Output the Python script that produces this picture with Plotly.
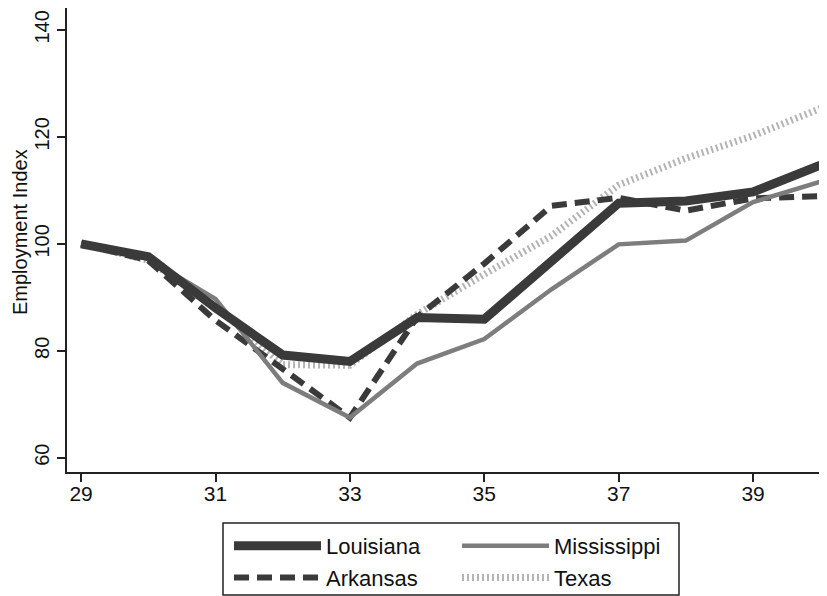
import plotly.graph_objects as go

years = [29, 30, 31, 32, 33, 34, 35, 36, 37, 38, 39, 40]
louisiana = [100, 97.6, 88.0, 79.2, 78.0, 86.2, 85.9, 96.8, 107.6, 108.0, 109.7, 114.7]
arkansas = [100, 96.9, 85.7, 76.6, 67.5, 86.3, 96.3, 107.1, 108.6, 106.2, 108.5, 108.9]
mississippi = [100, 97.2, 89.7, 74.0, 67.5, 77.6, 82.2, 91.5, 99.9, 100.6, 107.8, 111.6]
texas = [100, 96.9, 88.4, 77.4, 77.3, 86.8, 94.3, 101.5, 111.0, 116.0, 120.2, 125.3]

x_ticks = [29, 31, 33, 35, 37, 39]
y_ticks = [60, 80, 100, 120, 140]

FONT = "Liberation Sans, Arial, sans-serif"

fig = go.Figure()
fig.add_trace(go.Scatter(x=years, y=texas, name="Texas", mode="lines",
                         line=dict(color="#b4b4b4", width=7, dash="2px,3px"),
                         legend="legend2", legendrank=2))
fig.add_trace(go.Scatter(x=years, y=arkansas, name="Arkansas", mode="lines",
                         line=dict(color="#3a3a3a", width=6, dash="15px,8px"),
                         legend="legend", legendrank=2))
fig.add_trace(go.Scatter(x=years, y=mississippi, name="Mississippi", mode="lines",
                         line=dict(color="#7d7d7d", width=4.5),
                         legend="legend2", legendrank=1))
fig.add_trace(go.Scatter(x=years, y=louisiana, name="Louisiana", mode="lines",
                         line=dict(color="#3a3a3a", width=9),
                         legend="legend", legendrank=1))

# figure coordinates (the page adds an 8px body margin)
W, H = 819, 588
L, T, B = 59, 0, 124
pw = W - L
ph = H - T - B

def px_x(p):
    return (p - L) / pw

def px_y(p):
    return (H - B - p) / ph

legend_common = dict(
    orientation="v", bgcolor="rgba(0,0,0,0)", borderwidth=0,
    font=dict(family=FONT, size=22, color="#111"),
    itemwidth=87, tracegroupgap=0, yanchor="top", xanchor="left",
    xref="container", yref="container",
    itemclick=False, itemdoubleclick=False,
)

fig.update_layout(
    width=W, height=H,
    margin=dict(l=L, r=0, t=T, b=B, autoexpand=False),
    paper_bgcolor="white", plot_bgcolor="white",
    font=dict(family=FONT, size=21, color="#111"),
    showlegend=True,
    legend=dict(x=221 / W, y=1 - 517 / H, **legend_common),
    legend2=dict(x=449 / W, y=1 - 517 / H, **legend_common),
    xaxis=dict(range=[28.79, 40.1], tickvals=x_ticks, ticks="outside", ticklen=8,
               tickwidth=1.5, tickcolor="#222", showline=True, linecolor="#222",
               linewidth=1.5, showgrid=False, zeroline=False,
               ticklabelstandoff=-6, ticklabeloverflow="allow",
               tickfont=dict(family=FONT, size=21, color="#111")),
    yaxis=dict(range=[57.33, 144.1], tickvals=y_ticks, ticks="outside", ticklen=8,
               tickwidth=1.5, tickcolor="#222", showline=True, linecolor="#222",
               linewidth=1.5, showgrid=False, zeroline=False, tickangle=-90,
               ticklabeloverflow="allow",
               tickfont=dict(family=FONT, size=20, color="#111")),
    annotations=[dict(text="Employment Index", xref="paper", yref="paper",
                      x=px_x(0), y=px_y(224), xanchor="left", yanchor="middle",
                      textangle=-90, showarrow=False, borderpad=0,
                      font=dict(family=FONT, size=20, color="#111"))],
    shapes=[dict(type="rect", xref="paper", yref="paper",
                 x0=px_x(215), x1=px_x(671), y0=px_y(515), y1=px_y(587),
                 line=dict(color="#222", width=1.5), fillcolor="rgba(0,0,0,0)")],
)

fig.write_html("out.html")
